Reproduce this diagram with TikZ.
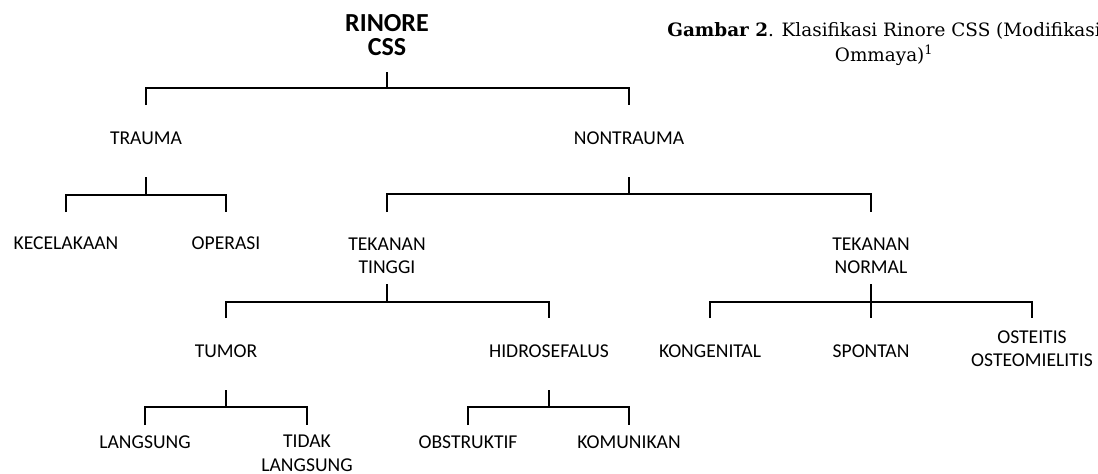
\documentclass[tikz,border=0pt]{standalone}
\usepackage{fontspec}
\setmainfont{Carlito}
\newfontfamily\capfont{DejaVu Serif}
\begin{document}
\begin{tikzpicture}[x=1pt,y=-1pt,
  lbl/.style={inner sep=0pt, align=center, font=\fontsize{19.6}{23.5}\selectfont},
  rootlbl/.style={inner sep=0pt, align=center, font=\bfseries\fontsize{26}{24}\selectfont},
  caplbl/.style={inner sep=0pt, anchor=base, font=\capfont\fontsize{18.4}{25}\selectfont},
  conn/.style={line width=2.2pt, line join=miter, line cap=butt}]
\useasboundingbox (0,0) rectangle (1098,474);

% nodes
\node[rootlbl] (root) at (387,35) {RINORE\\CSS};
\node[caplbl] (cap1) at (884,36) {\textbf{Gambar 2}. Klasifikasi Rinore CSS (Modifikasi};
\node[caplbl] (cap2) at (884,61) {Ommaya)\textsuperscript{1}};

\node[lbl] (trauma) at (146,138) {TRAUMA};
\node[lbl] (nontrauma) at (629,138) {NONTRAUMA};

\node[lbl] (kecelakaan) at (66,243) {KECELAKAAN};
\node[lbl] (operasi) at (226,243) {OPERASI};
\node[lbl] (tinggi) at (387,256) {TEKANAN\\TINGGI};
\node[lbl] (normal) at (871,256) {TEKANAN\\NORMAL};

\node[lbl] (tumor) at (226,351) {TUMOR};
\node[lbl] (hidro) at (549,351) {HIDROSEFALUS};
\node[lbl] (kongenital) at (710,351) {KONGENITAL};
\node[lbl] (spontan) at (871,351) {SPONTAN};
\node[lbl] (osteitis) at (1032,348.5) {OSTEITIS\\OSTEOMIELITIS};

\node[lbl] (langsung) at (145,442) {LANGSUNG};
\node[lbl] (tidak) at (307,453.5) {TIDAK\\LANGSUNG};
\node[lbl] (obstruktif) at (468,442) {OBSTRUKTIF};
\node[lbl] (komunikan) at (629,442) {KOMUNIKAN};

% connectors: root
\draw[conn] (root.south |- 0,72) -- (root.south |- 0,88);
\draw[conn] (trauma.north |- 0,105) -- (trauma.north |- 0,88) -- (nontrauma.north |- 0,88) -- (nontrauma.north |- 0,105);

% trauma
\draw[conn] (trauma.south |- 0,177) -- (trauma.south |- 0,195);
\draw[conn] (kecelakaan.north |- 0,212) -- (kecelakaan.north |- 0,195) -- (operasi.north |- 0,195) -- (operasi.north |- 0,212);

% nontrauma
\draw[conn] (nontrauma.south |- 0,177) -- (nontrauma.south |- 0,194);
\draw[conn] (tinggi.north |- 0,212) -- (tinggi.north |- 0,194) -- (normal.north |- 0,194) -- (normal.north |- 0,212);

% tekanan tinggi
\draw[conn] (tinggi.south |- 0,284) -- (tinggi.south |- 0,302);
\draw[conn] (tumor.north |- 0,318) -- (tumor.north |- 0,302) -- (hidro.north |- 0,302) -- (hidro.north |- 0,318);

% tekanan normal
\draw[conn] (normal.south |- 0,284) -- (spontan.north |- 0,318);
\draw[conn] (kongenital.north |- 0,318) -- (kongenital.north |- 0,302) -- (osteitis.north |- 0,302) -- (osteitis.north |- 0,318);

% tumor
\draw[conn] (tumor.south |- 0,390) -- (tumor.south |- 0,407);
\draw[conn] (langsung.north |- 0,425) -- (langsung.north |- 0,407) -- (tidak.north |- 0,407) -- (tidak.north |- 0,425);

% hidrosefalus
\draw[conn] (hidro.south |- 0,390) -- (hidro.south |- 0,407);
\draw[conn] (obstruktif.north |- 0,425) -- (obstruktif.north |- 0,407) -- (komunikan.north |- 0,407) -- (komunikan.north |- 0,425);
\end{tikzpicture}
\end{document}
